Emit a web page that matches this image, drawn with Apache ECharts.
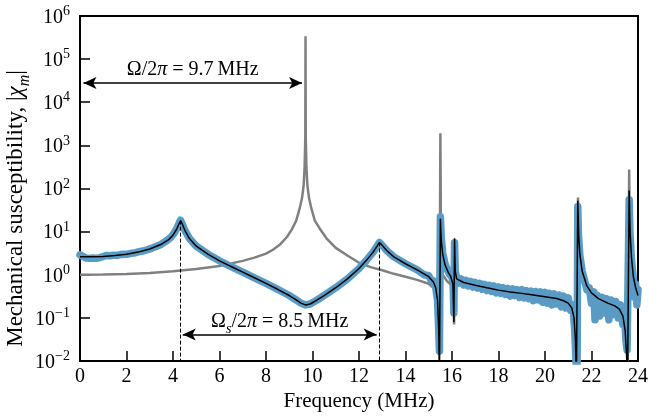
<!DOCTYPE html>
<html><head><meta charset="utf-8">
<script src="https://cdn.jsdelivr.net/npm/echarts@6/dist/echarts.min.js"></script>
<style>html,body{margin:0;padding:0;background:#fff}#c{width:648px;height:418px}</style>
</head><body><div id="c"></div>
<script>
// ---- data ----
const xTicks = [0, 2, 4, 6, 8, 10, 12, 14, 16, 18, 20, 22, 24];
const yExponents = [-2, -1, 0, 1, 2, 3, 4, 5, 6];

// measured (noisy) susceptibility, MHz -> |chi|
const measured = [
[0,2.9],[0.1,2.7],[0.25,2.45],[0.4,2.4],[0.55,2.45],[0.7,2.4],[0.85,2.5],[1.0,2.65],[1.15,2.8],[1.3,2.75],[1.45,2.85],[1.6,2.8],[1.75,2.95],[1.9,3.0],[2.05,3.0],[2.2,3.15],[2.35,3.2],[2.5,3.4],[2.7,3.55],[2.9,3.8],[3.1,4.15],[3.3,4.6],[3.5,5.1],[3.7,6],[3.9,7.3],[4.05,9.2],[4.15,11.5],[4.25,15],[4.32,18.5],[4.4,15],[4.5,11],[4.7,7],[5,4.6],[5.5,3.0],[6,2.1],[6.5,1.55],[7,1.15],[7.5,0.85],[8,0.63],[8.5,0.46],[9,0.33],[9.3,0.26],[9.5,0.22],[9.7,0.2],[9.9,0.21],[10.2,0.26],[10.5,0.33],[11,0.5],[11.5,0.8],[12,1.4],[12.3,2.1],[12.6,3.3],[12.8,4.8],[12.88,5.6],[13.0,4.8],[13.2,3.6],[13.5,2.6],[14,1.8],[14.5,1.3],[14.8,1.0],[15,0.95],[15.1,0.75],[15.2,0.72],[15.3,0.5],[15.38,0.25],[15.43,0.05],[15.46,0.017],[15.5,22],[15.54,7],[15.6,3.2],[15.7,1.8],[15.8,1.3],[15.9,1.0],[16.0,0.9],[16.05,0.6],[16.08,0.13],[16.11,5.5],[16.14,1.2],
[16.2,0.85],[16.3,0.64],[16.4,0.8],[16.5,0.58],[16.6,0.74],[16.7,0.55],[16.8,0.7],[16.9,0.52],[17.0,0.66],[17.1,0.49],[17.2,0.63],[17.3,0.46],[17.4,0.6],[17.5,0.43],[17.6,0.57],[17.7,0.41],[17.8,0.55],[17.9,0.38],[18.0,0.52],[18.1,0.37],[18.2,0.5],[18.3,0.35],[18.4,0.48],[18.5,0.32],[18.6,0.47],[18.7,0.33],[18.8,0.45],[18.9,0.3],[19.0,0.45],[19.1,0.29],[19.2,0.43],[19.3,0.28],[19.4,0.42],[19.5,0.25],[19.6,0.41],[19.7,0.26],[19.8,0.4],[19.9,0.23],[20.0,0.39],[20.1,0.22],[20.2,0.37],[20.3,0.2],[20.4,0.36],[20.5,0.21],[20.6,0.34],[20.7,0.18],[20.8,0.32],[20.9,0.17],[21.0,0.29],[21.1,0.15],[21.2,0.2],[21.28,0.05],[21.34,0.008],[21.38,0.004],[21.41,38],[21.44,8],[21.5,2.8],[21.6,1.2],[21.7,0.75],[21.8,0.45],[21.9,0.5],[22.0,0.22],[22.1,0.4],[22.15,0.09],[22.25,0.33],[22.35,0.11],[22.45,0.3],[22.55,0.13],[22.65,0.28],[22.75,0.09],[22.85,0.26],[22.95,0.12],[23.05,0.24],[23.15,0.1],[23.25,0.2],[23.35,0.07],[23.42,0.12],[23.48,0.03],[23.53,0.018],[23.58,0.02],[23.62,55],[23.66,8],[23.72,2.2],[23.8,0.8],[23.85,0.3],[23.9,0.6],[23.95,0.2],[24.0,0.45]
];

// fitted model (black)
const fitted = [
[0,2.6],[0.5,2.6],[1,2.65],[1.5,2.8],[2,3.0],[2.5,3.35],[3,3.95],[3.5,5.1],[3.8,6.4],[4.0,8.3],[4.15,11.2],[4.25,14.8],[4.33,18],[4.4,15],[4.5,11],[4.7,7],[5,4.6],[5.5,3.0],[6,2.1],[6.5,1.55],[7,1.15],[7.5,0.85],[8,0.63],[8.5,0.46],[9,0.33],[9.3,0.26],[9.5,0.22],[9.7,0.2],[9.9,0.21],[10.2,0.26],[10.5,0.33],[11,0.5],[11.5,0.8],[12,1.4],[12.3,2.1],[12.6,3.3],[12.8,4.8],[12.88,5.6],[13.0,4.8],[13.2,3.6],[13.5,2.6],[14,1.8],[14.5,1.3],[15,0.9],[15.2,0.68],[15.3,0.5],[15.38,0.25],[15.43,0.05],[15.46,0.003],[15.5,20],[15.54,6],[15.6,3],[15.7,1.7],[15.85,1.1],[15.95,0.9],[16.04,0.6],[16.08,0.08],[16.11,7],[16.14,1.2],[16.2,0.8],[16.5,0.66],[17,0.57],[17.5,0.5],[18,0.44],[18.5,0.4],[19,0.37],[19.5,0.34],[20,0.31],[20.5,0.28],[20.8,0.25],[21,0.22],[21.15,0.17],[21.25,0.1],[21.31,0.03],[21.35,0.003],[21.41,52],[21.45,8],[21.5,3],[21.6,1.2],[21.8,0.55],[22,0.38],[22.3,0.28],[22.7,0.22],[23,0.19],[23.2,0.16],[23.35,0.11],[23.45,0.05],[23.52,0.01],[23.55,0.003],[23.62,90],[23.66,10],[23.72,2.5],[23.8,0.9],[23.9,0.5],[24,0.33]
];

// bare mechanical susceptibility (grey)
const bare = [
[0,1.0],[1,1.01],[2,1.04],[3,1.1],[4,1.2],[5,1.36],[6,1.6],[7,2.1],[7.5,2.5],[8,3.1],[8.3,3.8],[8.6,5],[8.9,7.5],[9.1,11],[9.3,18],[9.45,35],[9.55,60],[9.62,120],[9.66,300],[9.69,1500],[9.7,340000],[9.71,1500],[9.74,300],[9.78,120],[9.85,60],[9.95,35],[10.1,18],[10.3,12],[10.6,7],[11,4.2],[11.5,2.8],[12,1.9],[12.5,1.5],[13,1.27],[13.5,1.05],[14,0.9],[14.5,0.76],[15,0.62],[15.2,0.5],[15.3,0.4],[15.4,0.2],[15.46,0.02],[15.5,1900],[15.53,3],[15.6,1.0],[15.8,0.7],[16.0,0.55],[16.06,0.3],[16.09,0.07],[16.11,5],[16.14,0.9],[16.3,0.6],[17,0.5],[18,0.42],[19,0.36],[20,0.3],[20.8,0.25],[21.2,0.18],[21.33,0.05],[21.38,0.01],[21.42,62],[21.46,3],[21.6,0.9],[22,0.42],[22.5,0.3],[23,0.25],[23.3,0.2],[23.5,0.08],[23.56,0.01],[23.62,275],[23.66,3],[23.8,0.7],[24,0.38]
];

// annotations (data coordinates)
const omegaArrow = { from: 0.15, to: 9.55, level: 2.8e4 };
const omegaSArrow = { from: 4.42, to: 12.76, level: 0.041 };
const peakMarkers = [ { x: 4.33, top: 18 }, { x: 12.86, top: 5.6 } ];
const yFloor = 0.01;

// ---- rendering ----
const FONT = 'Liberation Serif';
const chart = echarts.init(document.getElementById('c'), null, { renderer: 'canvas' });

const mkRich = (fs) => ({
  r: { fontFamily: FONT, fontSize: fs, color: '#000', lineHeight: fs + 3, verticalAlign: 'top' },
  i: { fontFamily: FONT, fontSize: fs, color: '#000', fontStyle: 'italic', lineHeight: fs + 3, verticalAlign: 'top' },
  sub: { fontFamily: FONT, fontSize: Math.round(fs * 0.7), color: '#000', fontStyle: 'italic', lineHeight: Math.round(fs * 0.7) + 1, verticalAlign: 'top', padding: [Math.round(fs * 0.55), 0, 0, 0] }
});
const annRich = mkRich(20);
const nameRich = mkRich(23);

const arrowLine = (a, text) => [
  { coord: [a.from, a.level], symbol: 'arrow', symbolSize: [9, 13],
    lineStyle: { type: 'solid', color: '#000', width: 1.5 },
    label: { show: true, position: 'insideMiddleTop', distance: 0, formatter: text, rich: annRich } },
  { coord: [a.to, a.level], symbol: 'arrow', symbolSize: [9, 13] }
];
const dashLine = (m) => [
  { coord: [m.x, m.top], symbol: 'none', lineStyle: { type: [4, 2], color: '#000', width: 1 }, label: { show: false } },
  { coord: [m.x, yFloor], symbol: 'none' }
];

const option = {
  animation: false,
  backgroundColor: '#fff',
  grid: { left: 80, right: 10, top: 16, bottom: 57, containLabel: false, outerBoundsMode: 'none',
          show: true, borderColor: '#000', borderWidth: 2, backgroundColor: 'transparent' },
  xAxis: {
    type: 'value', min: xTicks[0], max: xTicks[xTicks.length - 1], interval: 2,
    name: 'Frequency (MHz)', nameLocation: 'middle', nameGap: 30, nameMoveOverlap: false,
    nameTextStyle: { fontFamily: FONT, fontSize: 21, color: '#000' },
    axisLine: { show: true, lineStyle: { color: '#000', width: 2 } },
    axisTick: { show: true, inside: true, length: 10, lineStyle: { color: '#000', width: 1.5 } },
    axisLabel: { fontFamily: FONT, fontSize: 20, color: '#000', margin: 6 },
    splitLine: { show: false }
  },
  yAxis: {
    type: 'log', logBase: 10, min: Math.pow(10, yExponents[0]), max: Math.pow(10, yExponents[yExponents.length - 1]),
    splitNumber: yExponents.length - 1,
    name: '{r|Mechanical susceptibility, |}{i|χ}{sub|m}{r||}',
    nameLocation: 'middle', nameRotate: 90, nameGap: 50, nameMoveOverlap: false,
    nameTextStyle: { rich: nameRich, padding: [0, 40, 0, 0] },
    axisLine: { show: true, lineStyle: { color: '#000', width: 2 } },
    axisTick: { show: true, inside: true, length: 10, lineStyle: { color: '#000', width: 1.5 } },
    minorTick: { show: false },
    axisLabel: {
      margin: 10,
      formatter: (v) => {
        const e = Math.round(Math.log10(v));
        return '{b|10}{s|' + (e < 0 ? '\u2212' + (-e) : e) + '}';
      },
      rich: {
        b: { fontFamily: FONT, fontSize: 20, color: '#000', lineHeight: 23, verticalAlign: 'bottom' },
        s: { fontFamily: FONT, fontSize: 14, color: '#000', lineHeight: 15, verticalAlign: 'bottom', padding: [0, 0, 9, 0] }
      }
    },
    splitLine: { show: false }
  },
  series: [
    { name: 'bare', type: 'line', data: bare, showSymbol: false, clip: true, z: 2,
      lineStyle: { color: '#808080', width: 2.5 } },
    { name: 'measured', type: 'line', data: measured, showSymbol: false, clip: true, z: 3,
      lineStyle: { color: '#5a9bc6', width: 7.5, cap: 'round', join: 'round' } },
    { name: 'fit', type: 'line', data: fitted, showSymbol: false, clip: true, z: 4,
      lineStyle: { color: '#000', width: 1.5 },
      markLine: {
        silent: true, animation: false, precision: 4,
        data: [
          arrowLine(omegaArrow, '{r|Ω/2}{i|π}{r| = 9.7\u2009MHz}'),
          arrowLine(omegaSArrow, '{r|Ω}{sub|s}{r|/2}{i|π}{r| = 8.5\u2009MHz}'),
          dashLine(peakMarkers[0]),
          dashLine(peakMarkers[1])
        ]
      }
    }
  ]
};
chart.setOption(option);
</script>
</body></html>
